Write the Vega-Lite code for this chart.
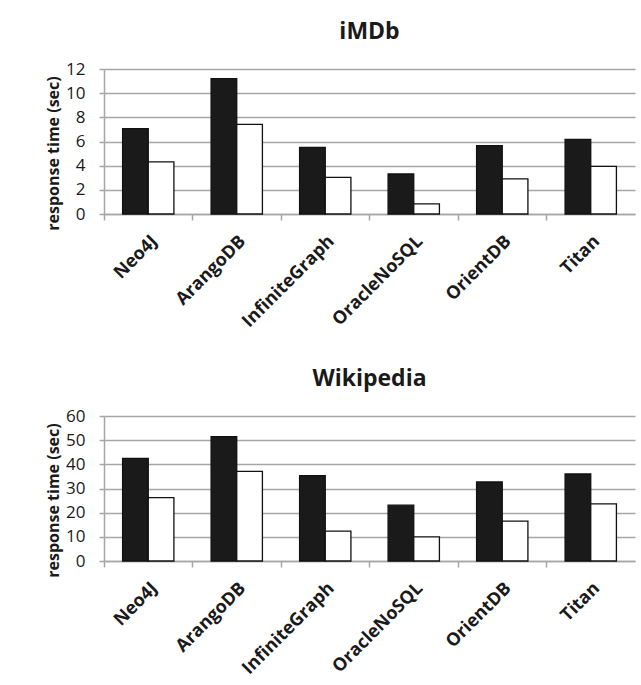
{
  "$schema": "https://vega.github.io/schema/vega-lite/v6.json",
  "background": "white",
  "padding": {"left": 45, "top": 21, "right": 5, "bottom": 5},
  "spacing": 37,
  "config": {
    "font": "Open Sans",
    "view": {"stroke": null},
    "title": {"fontSize": 23, "fontWeight": "bold", "color": "#1a1a1a", "anchor": "middle", "offset": 16},
    "axisY": {"domainColor": "#a6a6a6", "domainWidth": 1.5, "gridColor": "#a6a6a6", "gridWidth": 1.5, "tickColor": "#a6a6a6", "tickWidth": 1.5, "tickSize": 5, "labelFontSize": 17, "labelColor": "#1a1a1a", "labelPadding": 14, "titleFontSize": 16, "titleFontWeight": "bold", "titleColor": "#1a1a1a", "titlePadding": 4, "titleY": 84},
    "axisX": {"domainColor": "#a6a6a6", "domainWidth": 1.5, "tickColor": "#a6a6a6", "tickWidth": 1.5, "tickSize": 6, "labelAngle": -45, "labelFontSize": 18, "labelFontWeight": "bold", "labelColor": "#1a1a1a", "bandPosition": -0.362, "labelPadding": 12, "title": null, "grid": false}
  },
  "vconcat": [
    {
      "title": "iMDb",
      "width": 531,
      "height": 145,
      "data": {"values": [
        {"database": "Neo4J", "series": "A", "time": 7.06},
        {"database": "Neo4J", "series": "B", "time": 4.32},
        {"database": "ArangoDB", "series": "A", "time": 11.2},
        {"database": "ArangoDB", "series": "B", "time": 7.42},
        {"database": "InfiniteGraph", "series": "A", "time": 5.51},
        {"database": "InfiniteGraph", "series": "B", "time": 3.03},
        {"database": "OracleNoSQL", "series": "A", "time": 3.31},
        {"database": "OracleNoSQL", "series": "B", "time": 0.83},
        {"database": "OrientDB", "series": "A", "time": 5.65},
        {"database": "OrientDB", "series": "B", "time": 2.9},
        {"database": "Titan", "series": "A", "time": 6.18},
        {"database": "Titan", "series": "B", "time": 3.94}
      ]},
      "mark": {"type": "bar", "stroke": "#111111", "strokeWidth": 1.3},
      "encoding": {
        "x": {"field": "database", "type": "nominal", "sort": null, "scale": {"paddingInner": 0.42, "paddingOuter": 0.21}},
        "xOffset": {"field": "series", "type": "nominal", "sort": null},
        "y": {"field": "time", "type": "quantitative", "scale": {"domain": [0, 12]}, "axis": {"values": [0, 2, 4, 6, 8, 10, 12], "title": "response time (sec)"}},
        "fill": {"field": "series", "type": "nominal", "scale": {"domain": ["A", "B"], "range": ["#1a1a1a", "#ffffff"]}, "legend": null}
      }
    },
    {
      "title": "Wikipedia",
      "width": 531,
      "height": 145,
      "data": {"values": [
        {"database": "Neo4J", "series": "A", "time": 42.5},
        {"database": "Neo4J", "series": "B", "time": 26.2},
        {"database": "ArangoDB", "series": "A", "time": 51.5},
        {"database": "ArangoDB", "series": "B", "time": 37.1},
        {"database": "InfiniteGraph", "series": "A", "time": 35.3},
        {"database": "InfiniteGraph", "series": "B", "time": 12.4},
        {"database": "OracleNoSQL", "series": "A", "time": 23.1},
        {"database": "OracleNoSQL", "series": "B", "time": 10.0},
        {"database": "OrientDB", "series": "A", "time": 32.7},
        {"database": "OrientDB", "series": "B", "time": 16.5},
        {"database": "Titan", "series": "A", "time": 36.0},
        {"database": "Titan", "series": "B", "time": 23.6}
      ]},
      "mark": {"type": "bar", "stroke": "#111111", "strokeWidth": 1.3},
      "encoding": {
        "x": {"field": "database", "type": "nominal", "sort": null, "scale": {"paddingInner": 0.42, "paddingOuter": 0.21}},
        "xOffset": {"field": "series", "type": "nominal", "sort": null},
        "y": {"field": "time", "type": "quantitative", "scale": {"domain": [0, 60]}, "axis": {"values": [0, 10, 20, 30, 40, 50, 60], "title": "response time (sec)"}},
        "fill": {"field": "series", "type": "nominal", "scale": {"domain": ["A", "B"], "range": ["#1a1a1a", "#ffffff"]}, "legend": null}
      }
    }
  ]
}
